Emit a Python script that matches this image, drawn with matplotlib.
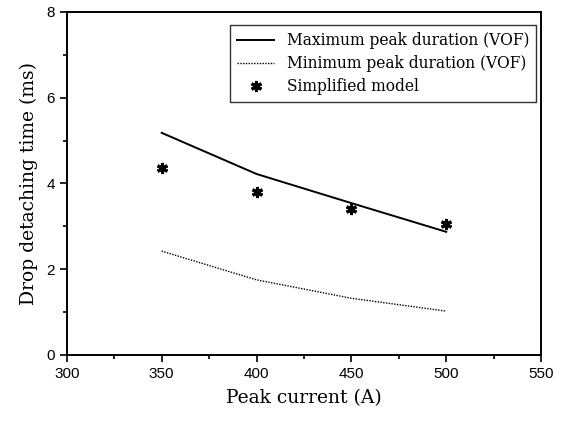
import matplotlib
matplotlib.use("Agg")
import matplotlib.pyplot as plt
from matplotlib.ticker import MultipleLocator

current = [350, 400, 450, 500]
max_peak = [5.18, 4.22, 3.54, 2.87]
min_peak = [2.42, 1.75, 1.32, 1.02]
model = [4.36, 3.81, 3.41, 3.05]

plt.rcParams['font.family'] = ['DejaVu Serif']

fig = plt.figure(figsize=(5.66, 4.26), dpi=100)
ax = fig.add_axes([0.118, 0.167, 0.838, 0.805])

ax.plot(current, max_peak, color='black', lw=1.4, label='Maximum peak duration (VOF)')
ax.plot(current, min_peak, color='black', lw=1.0, ls=(0, (1, 1)), label='Minimum peak duration (VOF)')
ax.plot(current, model, ls='none', marker=(6, 2, 0), ms=8, mew=2.2, color='black', label='Simplified model')

ax.set_xlim(300, 550)
ax.set_ylim(0, 8)
ax.xaxis.set_major_locator(MultipleLocator(50))
ax.xaxis.set_minor_locator(MultipleLocator(25))
ax.yaxis.set_major_locator(MultipleLocator(2))
ax.yaxis.set_minor_locator(MultipleLocator(1))
ax.tick_params(which='both', direction='out', width=1.2)
ax.tick_params(which='major', length=5, labelsize=11)
ax.tick_params(which='minor', length=3)
for lab in ax.get_xticklabels() + ax.get_yticklabels():
    lab.set_family('Liberation Sans')
for s in ax.spines.values():
    s.set_linewidth(1.4)

ax.set_xlabel('Peak current (A)', fontsize=13.5, labelpad=6)
ax.set_ylabel('Drop detaching time (ms)', fontsize=13.5, labelpad=6)

leg = ax.legend(loc='upper right', bbox_to_anchor=(0.99, 0.962), borderaxespad=0,
                fontsize=11.2, frameon=True, fancybox=False, edgecolor='black',
                handlelength=2.4, borderpad=0.45, labelspacing=0.4, handletextpad=0.8)
leg.get_frame().set_linewidth(1.0)

fig.savefig('out.png', dpi=100)
